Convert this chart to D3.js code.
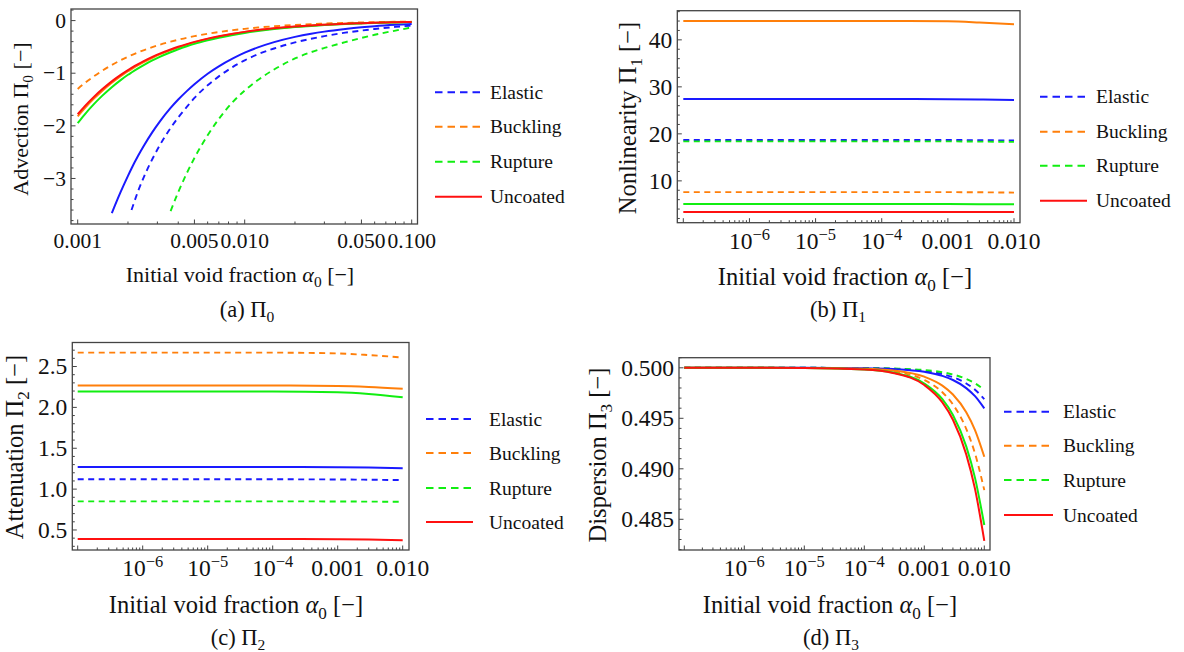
<!DOCTYPE html>
<html>
<head>
<meta charset="utf-8">
<script src="https://cdn.jsdelivr.net/npm/d3@7"></script>
<style>
  body { margin: 0; background: #fff; }
  svg text { font-family: "Liberation Serif", "Times New Roman", serif; fill: #111; }
</style>
</head>
<body>
<svg id="fig" width="1184" height="652"></svg>
<script>
// ---- data ----
var seriesNames = ["Elastic", "Buckling", "Rupture", "Uncoated"];

// (a) advection, alpha from 0.001 to 0.1
var alphaA = [0.001, 0.0011, 0.00125, 0.0014, 0.0016, 0.0018, 0.002, 0.0021, 0.0023, 0.0025,
              0.0028, 0.0031, 0.0036, 0.004, 0.0045, 0.005, 0.006, 0.007, 0.0085, 0.01,
              0.012, 0.015, 0.02, 0.025, 0.03, 0.04, 0.05, 0.06, 0.08, 0.1];
var elasticDashA  = [null, null, null, null, null, null, null, -3.60, -3.24, -2.96,
                     -2.63, -2.37, -2.04, -1.84, -1.64, -1.47, -1.23, -1.06, -0.88, -0.755,
                     -0.64, -0.53, -0.415, -0.345, -0.295, -0.23, -0.19, -0.16, -0.12, -0.095];
var bucklingDashA = [-1.30, -1.19, -1.059, -0.954, -0.843, -0.757, -0.687, -0.657, -0.604, -0.56,
                     -0.504, -0.459, -0.401, -0.364, -0.326, -0.296, -0.25, -0.218, -0.182, -0.157,
                     -0.132, -0.108, -0.083, -0.067, -0.057, -0.044, -0.036, -0.03, -0.023, -0.019];
var ruptureDashA  = [null, null, null, null, null, null, null, null, null, null,
                     null, null, -3.62, -3.26, -2.90, -2.61, -2.18, -1.87, -1.545, -1.33,
                     -1.13, -0.93, -0.72, -0.60, -0.52, -0.41, -0.33, -0.27, -0.19, -0.13];
var elasticSolidA = [null, null, null, null, -3.66, -3.27, -2.95, -2.81, -2.57, -2.37,
                     -2.12, -1.92, -1.66, -1.50, -1.34, -1.21, -1.01, -0.87, -0.72, -0.61,
                     -0.51, -0.41, -0.31, -0.25, -0.21, -0.16, -0.128, -0.107, -0.081, -0.065];
var bucklingSolidA= [-1.82, -1.667, -1.483, -1.337, -1.182, -1.061, -0.963, -0.921, -0.847, -0.785,
                     -0.707, -0.643, -0.562, -0.509, -0.457, -0.414, -0.351, -0.305, -0.255, -0.219,
                     -0.185, -0.151, -0.116, -0.095, -0.08, -0.061, -0.05, -0.042, -0.032, -0.026];
var ruptureSolidA = [-1.95, -1.785, -1.588, -1.431, -1.265, -1.136, -1.03, -0.986, -0.907, -0.84,
                     -0.757, -0.689, -0.601, -0.545, -0.489, -0.443, -0.376, -0.326, -0.273, -0.235,
                     -0.199, -0.162, -0.124, -0.101, -0.086, -0.066, -0.054, -0.045, -0.035, -0.028];
var uncoatedA     = [-1.78, -1.63, -1.45, -1.307, -1.155, -1.037, -0.941, -0.90, -0.828, -0.767,
                     -0.691, -0.629, -0.549, -0.498, -0.447, -0.405, -0.343, -0.298, -0.249, -0.2145,
                     -0.181, -0.148, -0.113, -0.092, -0.078, -0.06, -0.049, -0.041, -0.032, -0.026];

// (b) nonlinearity and (c) attenuation, alpha from 1e-7 to 1e-2
var alphaBC = [1e-7, 1e-6, 1e-5, 1e-4, 1e-3, 3e-3, 1e-2];
var elasticDashB  = [18.7, 18.7, 18.7, 18.7, 18.7, 18.65, 18.6];
var bucklingDashB = [7.6, 7.6, 7.6, 7.6, 7.6, 7.57, 7.5];
var ruptureDashB  = [18.4, 18.4, 18.4, 18.4, 18.4, 18.35, 18.3];
var elasticSolidB = [27.4, 27.4, 27.4, 27.4, 27.38, 27.32, 27.2];
var bucklingSolidB= [44.0, 44.0, 44.0, 44.0, 43.95, 43.7, 43.3];
var ruptureSolidB = [5.1, 5.1, 5.1, 5.1, 5.08, 5.05, 5.0];
var uncoatedB     = [3.4, 3.4, 3.4, 3.4, 3.39, 3.38, 3.35];

var elasticDashC  = [1.12, 1.12, 1.12, 1.12, 1.118, 1.115, 1.11];
var bucklingDashC = [2.67, 2.67, 2.67, 2.67, 2.66, 2.64, 2.61];
var ruptureDashC  = [0.85, 0.85, 0.85, 0.85, 0.849, 0.847, 0.845];
var elasticSolidC = [1.27, 1.27, 1.27, 1.27, 1.268, 1.263, 1.255];
var bucklingSolidC= [2.267, 2.267, 2.267, 2.267, 2.262, 2.25, 2.227];
var ruptureSolidC = [2.194, 2.194, 2.194, 2.194, 2.185, 2.165, 2.125];
var uncoatedC     = [0.39, 0.39, 0.39, 0.39, 0.388, 0.383, 0.375];

// (d) dispersion
var alphaD = [1e-7, 1e-6, 1e-5, 1e-4, 3e-4, 1e-3, 2e-3, 3e-3, 5e-3, 7e-3, 1e-2];
var elasticDashD  = [0.5, 0.5, 0.5, 0.49997, 0.49991, 0.49969, 0.49938, 0.49907, 0.49845, 0.49783, 0.4969];
var bucklingDashD = [0.5, 0.5, 0.49999, 0.49988, 0.49964, 0.49879, 0.49758, 0.49637, 0.49395, 0.49152, 0.48789];
var ruptureDashD  = [0.5, 0.5, 0.5, 0.49998, 0.49993, 0.49978, 0.49956, 0.49934, 0.4989, 0.49846, 0.4978];
var elasticSolidD = [0.5, 0.5, 0.5, 0.49996, 0.49988, 0.4996, 0.4992, 0.49879, 0.49799, 0.49719, 0.49598];
var bucklingSolidD= [0.5, 0.5, 0.49999, 0.49991, 0.49974, 0.49912, 0.49824, 0.49736, 0.4956, 0.49383, 0.49119];
var ruptureSolidD = [0.5, 0.5, 0.49998, 0.49984, 0.49953, 0.49844, 0.49689, 0.49533, 0.49222, 0.4891, 0.48443];
var uncoatedD     = [0.5, 0.5, 0.49998, 0.49983, 0.49949, 0.49829, 0.49657, 0.49486, 0.49143, 0.48801, 0.48287];

// tick values
var xTicksA = [0.001, 0.005, 0.01, 0.05, 0.1];
var xTickLabelsA = ["0.001", "0.005", "0.010", "0.050", "0.100"];
var xTicksLog = [1e-6, 1e-5, 1e-4, 1e-3, 1e-2];
var xTickLabelsLog = [["10", "\u22126"], ["10", "\u22125"], ["10", "\u22124"], ["0.001"], ["0.010"]];
var yTicksA = [0, -1, -2, -3];
var yTicksB = [10, 20, 30, 40];
var yTicksC = [0.5, 1.0, 1.5, 2.0, 2.5];
var yTicksD = [0.485, 0.490, 0.495, 0.500];

var colors = { blue: "#1a1aff", orange: "#ff7f0a", green: "#11ee11", red: "#ff1010" };
var frameColor = "#444";

var svg = d3.select("#fig");

function series(alpha, el, bu, ru, elS, buS, ruS, un){
	return [
		{ v: el,  color: colors.blue,   dash: true },
		{ v: bu,  color: colors.orange, dash: true },
		{ v: ru,  color: colors.green,  dash: true },
		{ v: elS, color: colors.blue,   dash: false },
		{ v: buS, color: colors.orange, dash: false },
		{ v: ruS, color: colors.green,  dash: false },
		{ v: un,  color: colors.red,    dash: false }
	].map(function(s){
		s.pts = alpha.map(function(a, i){ return { a: a, v: s.v[i] }; });
		return s;
	});
}

function logMinor(lo, hi){
	var out = [];
	for (var e = Math.floor(Math.log10(lo)); e <= Math.ceil(Math.log10(hi)); e++){
		for (var k = 1; k <= 9; k++){
			var t = k * Math.pow(10, e);
			if (t >= lo * 0.999 && t <= hi * 1.001) out.push({ t: t, major: k === 1 });
		}
	}
	return out;
}

function linMinor(lo, hi, step){
	var out = [];
	var n = Math.round((hi - lo) / step);
	for (var i = 0; i <= n; i++) out.push(+(lo + i * step).toFixed(6));
	return out;
}

function panel(cfg, idx){
	var g = svg.append("g");
	var x = d3.scaleLog().domain(cfg.xDomain).range(cfg.xRange);
	var y = d3.scaleLinear().domain(cfg.yDomain).range([cfg.T, cfg.B]);
	var fs = cfg.tickSize, ls = cfg.labelSize;

	g.append("clipPath").attr("id", "clip" + idx)
		.append("rect").attr("x", cfg.L).attr("y", cfg.T)
		.attr("width", cfg.R - cfg.L).attr("height", cfg.B - cfg.T);

	var line = d3.line()
		.defined(function(d){ return d.v != null; })
		.x(function(d){ return x(d.a); })
		.y(function(d){ return y(d.v); })
		.curve(d3.curveMonotoneX);

	g.append("g").attr("clip-path", "url(#clip" + idx + ")")
		.selectAll("path").data(cfg.data).enter()
		.append("path")
		.attr("d", function(d){ return line(d.pts); })
		.attr("fill", "none")
		.attr("stroke", function(d){ return d.color; })
		.attr("stroke-width", function(d){ return d.dash ? 1.9 : 2; })
		.attr("stroke-dasharray", function(d){ return d.dash ? "6,4.5" : null; });

	// frame
	g.append("rect").attr("x", cfg.L).attr("y", cfg.T)
		.attr("width", cfg.R - cfg.L).attr("height", cfg.B - cfg.T)
		.attr("fill", "none").attr("stroke", frameColor).attr("stroke-width", 1.3);

	// x ticks
	g.selectAll(".xt").data(cfg.xMinor).enter().append("line")
		.attr("x1", function(d){ return x(d.t); }).attr("x2", function(d){ return x(d.t); })
		.attr("y1", cfg.B).attr("y2", function(d){ return cfg.B - (d.major ? 4.5 : 2.5); })
		.attr("stroke", frameColor).attr("stroke-width", 1);

	// y ticks
	g.selectAll(".ytm").data(cfg.yMinor).enter().append("line")
		.attr("x1", cfg.L).attr("x2", function(d){
			var major = cfg.yTicks.some(function(t){ return Math.abs(t - d) < 1e-9; });
			return cfg.L + (major ? 4.5 : 2.5);
		})
		.attr("y1", function(d){ return y(d); }).attr("y2", function(d){ return y(d); })
		.attr("stroke", frameColor).attr("stroke-width", 1);

	// x tick labels
	cfg.xTicks.forEach(function(t, i){
		var lab = cfg.xLabels[i];
		var txt = g.append("text").attr("x", x(t)).attr("y", cfg.B + cfg.xTickDy)
			.attr("text-anchor", "middle").attr("font-size", fs);
		txt.append("tspan").text(lab[0]);
		if (lab[1]) txt.append("tspan").attr("dy", -fs * 0.38).attr("font-size", fs * 0.7).text(lab[1]);
	});

	// y tick labels
	cfg.yTicks.forEach(function(t){
		g.append("text").attr("x", cfg.L - 5).attr("y", y(t) + fs * 0.33)
			.attr("text-anchor", "end").attr("font-size", fs)
			.text(cfg.yFormat(t));
	});

	// y axis label
	var yl = g.append("text")
		.attr("transform", "translate(" + cfg.yLabelX + "," + cfg.yLabelY + ") rotate(-90)")
		.attr("text-anchor", "middle").attr("font-size", ls);
	yl.append("tspan").text(cfg.yName + " \u03a0");
	yl.append("tspan").attr("dy", ls * 0.24).attr("font-size", ls * 0.7).text(cfg.sub);
	yl.append("tspan").attr("dy", -ls * 0.24).text(" [\u2212]");

	// x axis label
	var xl = g.append("text").attr("x", cfg.xLabelX).attr("y", cfg.xLabelY)
		.attr("text-anchor", "middle").attr("font-size", ls);
	xl.append("tspan").text("Initial void fraction ");
	xl.append("tspan").attr("font-style", "italic").text("\u03b1");
	xl.append("tspan").attr("dy", ls * 0.24).attr("font-size", ls * 0.7).text("0");
	xl.append("tspan").attr("dy", -ls * 0.24).text(" [\u2212]");

	// caption
	var cap = g.append("text").attr("x", cfg.capX).attr("y", cfg.capY)
		.attr("text-anchor", "middle").attr("font-size", 22.5);
	cap.append("tspan").text("(" + cfg.letter + ") \u03a0");
	cap.append("tspan").attr("dy", 5).attr("font-size", 15.5).text(cfg.sub);

	// legend
	var leg = [
		{ name: seriesNames[0], color: colors.blue, dash: true },
		{ name: seriesNames[1], color: colors.orange, dash: true },
		{ name: seriesNames[2], color: colors.green, dash: true },
		{ name: seriesNames[3], color: colors.red, dash: false }
	];
	leg.forEach(function(d, i){
		var yy = cfg.legRows[i];
		g.append("line").attr("x1", cfg.legX1).attr("x2", cfg.legX2)
			.attr("y1", yy).attr("y2", yy)
			.attr("stroke", d.color).attr("stroke-width", 2)
			.attr("stroke-dasharray", d.dash ? "7.5,5" : null);
		g.append("text").attr("x", cfg.legText).attr("y", yy + 6.5)
			.attr("font-size", 19.5).text(d.name);
	});
}

var minusFmt = function(t){ return t < 0 ? "\u2212" + Math.abs(t) : String(t); };

var panels = [
	{
		letter: "a", sub: "0", yName: "Advection",
		L: 71, R: 417.5, T: 9, B: 224,
		xDomain: [0.001, 0.1], xRange: [77.7, 411.7],
		yDomain: [0.22, -3.865],
		data: series(alphaA, elasticDashA, bucklingDashA, ruptureDashA, elasticSolidA, bucklingSolidA, ruptureSolidA, uncoatedA),
		xTicks: xTicksA, xLabels: xTickLabelsA.map(function(s){ return [s]; }),
		xMinor: logMinor(0.001, 0.1).map(function(d){
			d.major = xTicksA.some(function(t){ return Math.abs(t - d.t) / t < 1e-6; }); return d; }),
		yTicks: yTicksA, yMinor: linMinor(-3.8, 0.2, 0.2), yFormat: minusFmt,
		tickSize: 21.5, labelSize: 22, xTickDy: 24,
		yLabelX: 28, yLabelY: 119, xLabelX: 240, xLabelY: 282, capX: 247, capY: 317,
		legX1: 435, legX2: 482, legText: 490, legRows: [92.3, 126.7, 161.7, 196.7]
	},
	{
		letter: "b", sub: "1", yName: "Nonlinearity",
		L: 677.3, R: 1020, T: 10.7, B: 222.7,
		xDomain: [1e-7, 1e-2], xRange: [683.3, 1014],
		yDomain: [46.2, 1.1],
		data: series(alphaBC, elasticDashB, bucklingDashB, ruptureDashB, elasticSolidB, bucklingSolidB, ruptureSolidB, uncoatedB),
		xTicks: xTicksLog, xLabels: xTickLabelsLog, xMinor: logMinor(1e-7, 1e-2),
		yTicks: yTicksB, yMinor: linMinor(2, 46, 2), yFormat: function(t){ return String(t); },
		tickSize: 23.5, labelSize: 24.5, xTickDy: 26.5,
		yLabelX: 636, yLabelY: 118, xLabelX: 845, xLabelY: 285, capX: 838, capY: 317,
		legX1: 1040, legX2: 1087, legText: 1096, legRows: [96.7, 131.7, 165.7, 200.7]
	},
	{
		letter: "c", sub: "2", yName: "Attenuation",
		L: 72.3, R: 409, T: 342.5, B: 550,
		xDomain: [1e-7, 1e-2], xRange: [77.7, 402.7],
		yDomain: [2.794, 0.255],
		data: series(alphaBC, elasticDashC, bucklingDashC, ruptureDashC, elasticSolidC, bucklingSolidC, ruptureSolidC, uncoatedC),
		xTicks: xTicksLog, xLabels: xTickLabelsLog, xMinor: logMinor(1e-7, 1e-2),
		yTicks: yTicksC, yMinor: linMinor(0.3, 2.7, 0.1), yFormat: d3.format(".1f"),
		tickSize: 23.5, labelSize: 24.5, xTickDy: 25.5,
		yLabelX: 23, yLabelY: 447, xLabelX: 236, xLabelY: 613, capX: 238, capY: 645,
		legX1: 426, legX2: 473, legText: 489, legRows: [419, 453, 488, 522]
	},
	{
		letter: "d", sub: "3", yName: "Dispersion",
		L: 679, R: 990, T: 357.7, B: 550,
		xDomain: [1e-7, 1e-2], xRange: [684.3, 984.3],
		yDomain: [0.501, 0.48196],
		data: series(alphaD, elasticDashD, bucklingDashD, ruptureDashD, elasticSolidD, bucklingSolidD, ruptureSolidD, uncoatedD),
		xTicks: xTicksLog, xLabels: xTickLabelsLog, xMinor: logMinor(1e-7, 1e-2),
		yTicks: yTicksD, yMinor: linMinor(0.482, 0.501, 0.001), yFormat: d3.format(".3f"),
		tickSize: 23.5, labelSize: 24.5, xTickDy: 25.5,
		yLabelX: 606, yLabelY: 455, xLabelX: 830, xLabelY: 613, capX: 831, capY: 645,
		legX1: 1004, legX2: 1053, legText: 1063, legRows: [411.7, 445.7, 480, 515]
	}
];

panels.forEach(panel);
</script>
</body>
</html>
